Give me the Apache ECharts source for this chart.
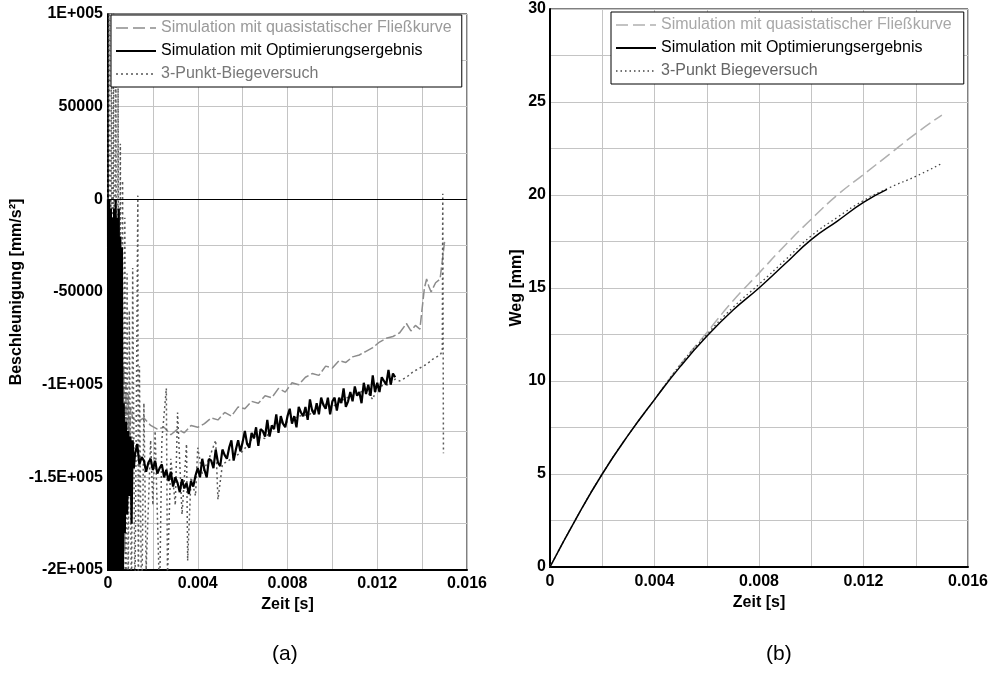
<!DOCTYPE html>
<html>
<head>
<meta charset="utf-8">
<script src="https://cdn.jsdelivr.net/npm/echarts@6/dist/echarts.min.js"></script>
<style>
html,body{margin:0;padding:0;background:#fff;}
#chart{width:992px;height:673px;}
</style>
</head>
<body>
<div id="chart"></div>
<script>
// ---------- Names ----------
const nameQuasi = 'Simulation mit quasistatischer Fließkurve';
const nameOpt = 'Simulation mit Optimierungsergebnis';
const nameExpA = '3-Punkt-Biegeversuch';
const nameExpB = '3-Punkt Biegeversuch';

// ---------- (a) Beschleunigung [mm/s²] over Zeit [s] ----------
const aQuasiT = [0,0.00005,0.0001,0.00015,0.0002,0.00025,0.0003,0.00035,0.0004,0.00045,0.0005,0.00055,0.0006,0.00065,0.0007,0.00075,0.0008,0.00085,0.0009,0.00095,0.001,0.0011,0.0013,0.0016,0.0019,0.0022,0.0025,0.0028,0.0031,0.0034,0.0037,0.004,0.0043,0.0046,0.0049,0.0052,0.0055,0.0058,0.0061,0.0064,0.0067,0.007,0.0073,0.0076,0.0079,0.0082,0.0085,0.0088,0.0091,0.0094,0.0097,0.01,0.0103,0.0106,0.0109,0.0112,0.0115,0.0118,0.0121,0.0124,0.0127,0.013,0.0133,0.0135,0.0137,0.0139,0.0141,0.0142,0.0143,0.0144,0.0146,0.0148,0.0149,0.015];
const aQuasiV = [0,-150000,-20000,-220000,-10000,-210000,-30000,-230000,-40000,-220000,-60000,-210000,-80000,-200000,-90000,-190000,-100000,-170000,-105000,-150000,-112000,-118000,-120000,-118000,-122000,-124000,-123000,-127000,-124000,-126000,-122000,-123000,-121000,-118000,-119000,-115000,-117000,-112000,-113000,-109000,-110000,-106000,-107000,-102000,-104000,-99000,-100000,-96000,-94000,-95000,-90000,-91000,-87000,-88000,-85000,-84000,-82000,-80000,-77000,-75000,-74000,-72000,-67000,-71000,-68000,-70000,-48000,-43000,-47000,-50000,-45000,-43000,-33000,-23000];

const aOptT = [0,0.00003,0.00006,0.0001,0.00013,0.00017,0.0002,0.00024,0.00027,0.00031,0.00034,0.00038,0.00041,0.00045,0.00048,0.00052,0.00055,0.00059,0.00062,0.00066,0.0007,0.00075,0.0008,0.00085,0.0009,0.00095,0.001,0.00105,0.0011,0.00115,
  0.0012,0.0013,0.0014,0.0015,0.0016,0.0017,0.0018,0.0019,0.002,0.0021,0.0022,0.0023,0.0024,0.0025,0.0026,0.0027,0.0028,0.0029,0.003,0.0031,0.0032,0.0033,0.0034,0.0035,0.0036,0.0037,0.0038,0.0039,
  0.004,0.0041,0.0042,0.0043,0.0044,0.0045,0.0046,0.0047,0.0048,0.0049,0.005,0.0051,0.0052,0.0053,0.0054,0.0055,0.0056,0.0057,0.0058,0.0059,0.006,0.0061,0.0062,0.0063,0.0064,0.0065,0.0066,0.0067,0.0068,0.0069,
  0.007,0.0071,0.0072,0.0073,0.0074,0.0075,0.0076,0.0077,0.0078,0.0079,0.008,0.0081,0.0082,0.0083,0.0084,0.0085,0.0086,0.0087,0.0088,0.0089,0.009,0.0091,0.0092,0.0093,0.0094,0.0095,0.0096,0.0097,0.0098,0.0099,
  0.01,0.0101,0.0102,0.0103,0.0104,0.0105,0.0106,0.0107,0.0108,0.0109,0.011,0.0111,0.0112,0.0113,0.0114,0.0115,0.0116,0.0117,0.0118,0.0119,0.012,0.0121,0.0122,0.0123,0.0124,0.0125,0.0126,0.0127,0.0128];
const aOptV = [0,-230000,0,-230000,-5000,-230000,-10000,-230000,-5000,-230000,0,-230000,-10000,-230000,-5000,-230000,-20000,-230000,-26000,-220000,-110000,-180000,-120000,-170000,-125000,-160000,-128000,-175000,-130000,-145000,
  -138000,-132000,-143000,-139000,-141000,-147000,-142000,-140000,-146000,-141000,-148000,-145000,-143000,-150000,-146000,-152000,-147000,-155000,-150000,-153000,-158000,-151000,-156000,-153000,-159000,-152000,-155000,-149000,
  -145000,-150000,-140000,-146000,-150000,-140000,-141000,-145000,-135000,-142000,-144000,-135000,-138000,-140000,-134000,-130000,-141000,-135000,-130000,-136000,-131000,-125000,-132000,-134000,-126000,-129000,-123000,-133000,-124000,-125000,
  -128000,-119000,-128000,-122000,-124000,-116000,-126000,-117000,-121000,-123000,-117000,-113000,-121000,-117000,-123000,-112000,-115000,-117000,-112000,-119000,-108000,-114000,-116000,-110000,-116000,-107000,-111000,-113000,-107000,-116000,
  -109000,-107000,-114000,-107000,-110000,-102000,-112000,-109000,-104000,-109000,-101000,-106000,-104000,-110000,-99000,-105000,-100000,-106000,-95000,-104000,-99000,-104000,-96000,-98000,-100000,-92000,-100000,-94000,-96000];

const aExpT = [0,0.00005,0.0001,0.00015,0.0002,0.00025,0.0003,0.00035,0.0004,0.00045,0.0005,0.00055,0.0006,0.00065,0.0007,0.00075,0.0008,0.00085,0.0009,0.00095,0.00105,0.0011,0.0012,0.00133,0.00135,0.0014,0.0015,0.0016,0.0017,0.0019,0.002,0.0021,0.0023,0.0024,0.0026,0.00265,0.0028,0.003,0.0031,0.0033,0.0035,0.00355,0.0037,0.0039,0.004,0.0042,0.0045,0.0048,0.0049,0.0051,0.0055,0.006,0.0065,0.007,0.0075,0.008,0.0085,0.009,0.0095,0.01,0.0105,0.011,0.0115,0.0118,0.012,0.0125,0.0128,0.013,0.0133,0.0136,0.0139,0.0142,0.0145,0.0148,0.0149,0.01492,0.01495];
const aExpV = [0,120000,-230000,120000,-230000,120000,-230000,80000,-230000,60000,-230000,30000,-230000,10000,-230000,-10000,-230000,-40000,-230000,-60000,-230000,-37000,-220000,2000,-230000,-90000,-230000,-110000,-200000,-130000,-165000,-125000,-215000,-130000,-102000,-205000,-140000,-165000,-115000,-170000,-132000,-195000,-150000,-160000,-134000,-148000,-140000,-130000,-162000,-143000,-140000,-136000,-128000,-129000,-121000,-120000,-117000,-116000,-110000,-112000,-108000,-105000,-103000,-108000,-101000,-100000,-97000,-98000,-96000,-93000,-91000,-89000,-86000,-84000,-82000,3000,-137000];

// ---------- (b) Weg [mm] over Zeit [s] ----------
const bQuasiT = [0,0.001,0.002,0.003,0.004,0.005,0.006,0.007,0.008,0.009,0.01,0.011,0.012,0.013,0.014,0.015];
const bQuasiV = [0,2.6,5.0,7.1,9.0,10.9,12.6,14.3,15.8,17.3,18.7,20.0,21.1,22.2,23.3,24.3];
const bOptT = [0,0.001,0.002,0.003,0.004,0.005,0.006,0.007,0.008,0.009,0.01,0.011,0.012,0.0129];
const bOptV = [0,2.6,5.0,7.1,9.0,10.8,12.4,13.8,15.0,16.3,17.6,18.6,19.6,20.3];
const bExpT = [0,0.001,0.002,0.003,0.004,0.005,0.006,0.007,0.008,0.009,0.01,0.011,0.012,0.013,0.014,0.015];
const bExpV = [0,2.6,5.0,7.1,9.0,10.9,12.5,13.95,15.2,16.5,17.8,18.8,19.7,20.4,21.0,21.7];

// ---------- Tick labels ----------
const aYLabels = {'100000':'1E+005','50000':'50000','0':'0','-50000':'-50000','-100000':'-1E+005','-150000':'-1.5E+005','-200000':'-2E+005'};
const xLabels = ['0','0.004','0.008','0.012','0.016'];
const bYLabels = ['0','5','10','15','20','25','30'];

const zip = (t, v) => t.map((x, i) => [x, v[i]]);
const FONT = 'Liberation Sans, Arial, sans-serif';

function xFmt(v) {
  const k = Math.round(v / 0.002);
  if (k % 2 !== 0) return '';
  return xLabels[k / 2] || '';
}

const axisLabelStyle = {fontFamily: FONT, fontSize: 16, fontWeight: 'bold', color: '#000'};
const nameStyle = {fontFamily: FONT, fontSize: 16, fontWeight: 'bold', color: '#000'};
const splitLine = {show: true, lineStyle: {color: '#c4c4c4', width: 1}};
const axisLine = {show: true, onZero: false, lineStyle: {color: '#000', width: 2}};
const hiddenSymbol = {color: 'rgba(0,0,0,0)', borderColor: 'rgba(0,0,0,0)', borderWidth: 0, opacity: 0};

const chart = echarts.init(document.getElementById('chart'), null, {renderer: 'canvas'});
chart.setOption({
  animation: false,
  backgroundColor: '#fff',
  grid: [
    {left: 108, top: 14, width: 359, height: 556, show: true, borderColor: '#000', borderWidth: 1, backgroundColor: 'transparent'},
    {left: 550, top: 9, width: 418, height: 558, show: true, borderColor: '#000', borderWidth: 1, backgroundColor: 'transparent'}
  ],
  xAxis: [
    {gridIndex: 0, type: 'value', min: 0, max: 0.016, interval: 0.002,
     name: 'Zeit [s]', nameLocation: 'middle', nameGap: 22, nameTextStyle: nameStyle,
     axisLine: axisLine, axisTick: {show: false}, splitLine: splitLine,
     axisLabel: Object.assign({formatter: xFmt, margin: 6, showMaxLabel: true, showMinLabel: true}, axisLabelStyle)},
    {gridIndex: 1, type: 'value', min: 0, max: 0.016, interval: 0.002,
     name: 'Zeit [s]', nameLocation: 'middle', nameGap: 23, nameTextStyle: nameStyle,
     axisLine: axisLine, axisTick: {show: false}, splitLine: splitLine,
     axisLabel: Object.assign({formatter: xFmt, margin: 7, showMaxLabel: true, showMinLabel: true}, axisLabelStyle)}
  ],
  yAxis: [
    {gridIndex: 0, type: 'value', min: -200000, max: 100000, interval: 25000,
     name: 'Beschleunigung [mm/s²]', nameLocation: 'middle', nameGap: 80, nameRotate: 90, nameTextStyle: nameStyle,
     axisLine: axisLine, axisTick: {show: false}, splitLine: splitLine,
     axisLabel: Object.assign({formatter: v => aYLabels[String(Math.round(v))] || '', margin: 5, showMaxLabel: true, showMinLabel: true}, axisLabelStyle)},
    {gridIndex: 1, type: 'value', min: 0, max: 30, interval: 2.5,
     name: 'Weg [mm]', nameLocation: 'middle', nameGap: 24, nameRotate: 90, nameTextStyle: nameStyle,
     axisLine: axisLine, axisTick: {show: false}, splitLine: splitLine,
     axisLabel: Object.assign({formatter: v => { const k = Math.round(v * 2); return k % 10 === 0 ? bYLabels[k / 10] : ''; }, margin: 4, showMaxLabel: true, showMinLabel: true}, axisLabelStyle)}
  ],
  legend: [
    {orient: 'vertical', left: 111, top: 15, padding: [5, 10, 5, 4], itemWidth: 40, itemHeight: 14, itemGap: 7,
     borderColor: '#000', borderWidth: 1, backgroundColor: '#fff', borderRadius: 0, selectedMode: false,
     itemStyle: hiddenSymbol,
     textStyle: {fontFamily: FONT, fontSize: 16},
     data: [
       {name: nameQuasi, textStyle: {color: '#9a9a9a'}, itemStyle: hiddenSymbol, lineStyle: {color: '#8c8c8c', type: [12, 5], width: 1.5}},
       {name: nameOpt, textStyle: {color: '#000'}, itemStyle: hiddenSymbol, lineStyle: {color: '#000', type: 'solid', width: 2}},
       {name: nameExpA, textStyle: {color: '#777'}, itemStyle: hiddenSymbol, lineStyle: {color: '#555', type: [2, 3], width: 1.5}}
     ]},
    {orient: 'vertical', left: 611, top: 12, padding: [5, 12, 5, 4], itemWidth: 40, itemHeight: 14, itemGap: 7,
     borderColor: '#000', borderWidth: 1, backgroundColor: '#fff', borderRadius: 0, selectedMode: false,
     itemStyle: hiddenSymbol,
     textStyle: {fontFamily: FONT, fontSize: 16},
     data: [
       {name: nameQuasi, textStyle: {color: '#a8a8a8'}, itemStyle: hiddenSymbol, lineStyle: {color: '#b0b0b0', type: [12, 5], width: 1.5}},
       {name: nameOpt, textStyle: {color: '#000'}, itemStyle: hiddenSymbol, lineStyle: {color: '#000', type: 'solid', width: 2}},
       {name: nameExpB, textStyle: {color: '#666'}, itemStyle: hiddenSymbol, lineStyle: {color: '#444', type: [1.5, 3], width: 1.3}}
     ]}
  ],
  series: [
    {name: nameQuasi, type: 'line', xAxisIndex: 0, yAxisIndex: 0, data: zip(aQuasiT, aQuasiV),
     showSymbol: false, symbol: 'none', clip: true, itemStyle: {color: '#8c8c8c'}, lineStyle: {color: '#8c8c8c', width: 1.5, type: [10, 3]}, z: 2},
    {name: nameExpA, type: 'line', xAxisIndex: 0, yAxisIndex: 0, data: zip(aExpT, aExpV),
     showSymbol: false, symbol: 'none', clip: true, itemStyle: {color: '#5a5a5a'}, lineStyle: {color: '#5a5a5a', width: 1.5, type: [2, 3]}, z: 3},
    {name: nameOpt, type: 'line', xAxisIndex: 0, yAxisIndex: 0, data: zip(aOptT, aOptV),
     showSymbol: false, symbol: 'none', clip: true, itemStyle: {color: '#000'}, lineStyle: {color: '#000', width: 2.2}, z: 4,
     markLine: {silent: true, symbol: 'none', label: {show: false}, lineStyle: {color: '#000', width: 1, type: 'solid'}, data: [{yAxis: 0}]}},
    {name: nameQuasi, type: 'line', xAxisIndex: 1, yAxisIndex: 1, data: zip(bQuasiT, bQuasiV),
     showSymbol: false, symbol: 'none', smooth: true, itemStyle: {color: '#b0b0b0'}, lineStyle: {color: '#b0b0b0', width: 1.5, type: [12, 5]}, z: 2},
    {name: nameExpB, type: 'line', xAxisIndex: 1, yAxisIndex: 1, data: zip(bExpT, bExpV),
     showSymbol: false, symbol: 'none', smooth: true, itemStyle: {color: '#444'}, lineStyle: {color: '#444', width: 1.3, type: [1.5, 3]}, z: 3},
    {name: nameOpt, type: 'line', xAxisIndex: 1, yAxisIndex: 1, data: zip(bOptT, bOptV),
     showSymbol: false, symbol: 'none', smooth: true, itemStyle: {color: '#000'}, lineStyle: {color: '#000', width: 1.5}, z: 4}
  ],
  graphic: [
    {type: 'text', left: 272, top: 644, style: {text: '(a)', fontFamily: FONT, fontSize: 21, fill: '#000'}},
    {type: 'text', left: 766, top: 644, style: {text: '(b)', fontFamily: FONT, fontSize: 21, fill: '#000'}}
  ]
});
</script>
</body>
</html>
